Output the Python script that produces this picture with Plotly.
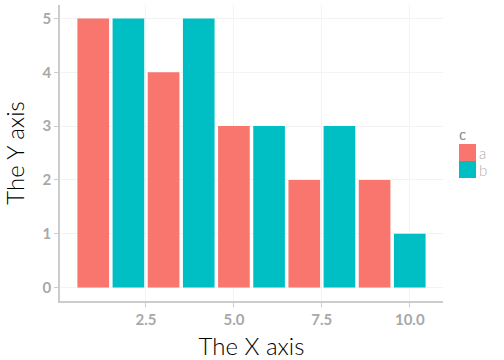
import plotly.graph_objects as go

x_a = [1, 3, 5, 7, 9]
y_a = [5, 4, 3, 2, 2]
x_b = [2, 4, 6, 8, 10]
y_b = [5, 5, 3, 3, 1]
series_names = ["a", "b"]
series_colors = ["#F8766D", "#00BFC4"]
legend_title = "c"
x_ticks = [2.5, 5.0, 7.5, 10.0]
x_tick_labels = ["2.5", "5.0", "7.5", "10.0"]
y_ticks = [0, 1, 2, 3, 4, 5]

fig = go.Figure()
fig.add_trace(go.Bar(x=x_a, y=y_a, name=series_names[0], width=0.9,
                     marker=dict(color=series_colors[0], line=dict(width=0))))
fig.add_trace(go.Bar(x=x_b, y=y_b, name=series_names[1], width=0.9,
                     marker=dict(color=series_colors[1], line=dict(width=0))))

# plot area in pixels: x 60..443, y 5..301
L, R, T, B = 60, 443, 5, 301
def px(x):
    return (x - L) / (R - L)
def py(y):
    return (B - y) / (B - T)

# manual legend (ggplot style)
key_top = 144
key_h = 17
for i, (nm, col) in enumerate(zip(series_names, series_colors)):
    y0 = key_top + i * key_h
    fig.add_shape(type="rect", xref="paper", yref="paper",
                  x0=px(459), x1=px(476), y0=py(y0 + key_h), y1=py(y0),
                  fillcolor=col, line=dict(width=0), layer="above")
    fig.add_annotation(text=nm, xref="paper", yref="paper", x=px(477), y=py(y0 + key_h / 2),
                       xanchor="left", yanchor="middle", showarrow=False,
                       font=dict(family="Lato", size=15, color="#b0b0b0", weight=300))
fig.add_annotation(text=legend_title, xref="paper", yref="paper", x=px(457), y=py(134),
                   xanchor="left", yanchor="middle", showarrow=False,
                   font=dict(family="Lato", size=15, color="#8c8c8c", weight=400))

tickfont = dict(family="Lato", size=15, color="#a8a8a8", weight="bold")
axis_common = dict(showgrid=True, gridcolor="#f3f3f3", gridwidth=1, zeroline=False,
                   showline=True, linecolor="#cccccc", linewidth=1.5,
                   ticks="outside", ticklen=4, tickcolor="#cccccc", tickfont=tickfont,
                   automargin=False)
fig.update_layout(
    width=504, height=360,
    margin=dict(l=L, r=504 - R, t=T, b=360 - B),
    plot_bgcolor="white", paper_bgcolor="white",
    barmode="overlay",
    showlegend=False,
    hovermode=False,
    font=dict(family="Lato"),
    xaxis=dict(range=[0.055, 10.945], tickvals=x_ticks, ticktext=x_tick_labels,
               title=dict(text="The X axis", font=dict(family="Lato", size=24, color="black", weight=300), standoff=11),
               **axis_common),
    yaxis=dict(range=[-0.25, 5.25], tickvals=y_ticks,
               title=dict(text="The Y axis", font=dict(family="Lato", size=24, color="black", weight=300), standoff=13),
               **axis_common),
)
fig.write_html("out.html", config={"displayModeBar": False},
               post_script="document.body.style.margin='0';document.body.style.overflow='hidden';")
